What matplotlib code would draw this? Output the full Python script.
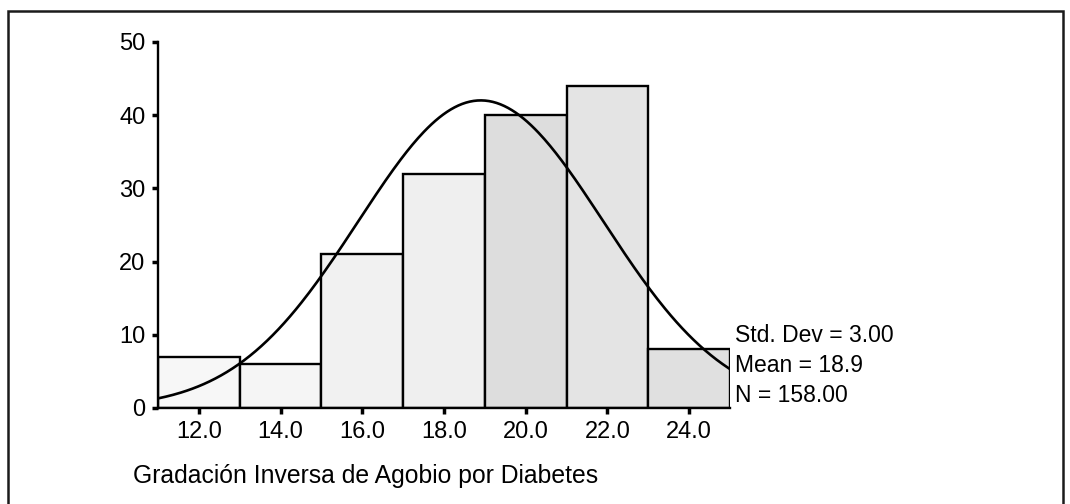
import matplotlib
matplotlib.use("Agg")
import matplotlib.pyplot as plt
from matplotlib.patches import Rectangle
import numpy as np

plt.rcParams['font.family'] = ['Liberation Sans', 'DejaVu Sans']

# histograma: centros de clase y frecuencias
centros = [12.0, 14.0, 16.0, 18.0, 20.0, 22.0, 24.0]
frecuencias = [7, 6, 21, 32, 40, 44, 8]
rellenos = ['#f7f7f7', '#f5f5f5', '#f1f1f1', '#efefef', '#dddddd', '#e4e4e4', '#e0e0e0']

# estadisticos mostrados en la figura
media = 18.9
desv = 3.00
n_total = 158.00
ancho_clase = 2.0

y_ticks = [0, 10, 20, 30, 40, 50]
x_ticks = [12.0, 14.0, 16.0, 18.0, 20.0, 22.0, 24.0]
etiqueta_x = "Gradación Inversa de Agobio por Diabetes"

W, H = 1070, 504
fig = plt.figure(figsize=(W / 100, H / 100), dpi=100)
fig.set_facecolor('white')
ax = fig.add_axes([158 / W, 96 / H, 572 / W, 366 / H])

ax.bar(centros, frecuencias, width=ancho_clase, color=rellenos,
       edgecolor='black', linewidth=1.7, zorder=2)

# curva normal ajustada (a partir de media, desv. tipica y N)
xs = np.linspace(11, 25, 300)
ys = n_total * ancho_clase / (desv * np.sqrt(2 * np.pi)) * np.exp(-0.5 * ((xs - media) / desv) ** 2)
ax.plot(xs, ys, color='black', linewidth=1.9, zorder=3)

ax.set_xlim(11, 25)
ax.set_ylim(0, 50)
ax.set_yticks(y_ticks)
ax.set_yticklabels([str(v) for v in y_ticks])
ax.set_xticks(x_ticks)
ax.set_xticklabels([f"{v:.1f}" for v in x_ticks])
for s in ['top', 'right']:
    ax.spines[s].set_visible(False)
for s in ['left', 'bottom']:
    ax.spines[s].set_linewidth(1.7)
ax.tick_params(direction='out', length=4, width=2.5, pad=5, labelsize=17)
ax.set_facecolor('white')

# texto de estadisticos
fig.text(735 / W, 1 - 335 / H, f"Std. Dev = {desv:.2f}", va='center', ha='left', fontsize=16.5)
fig.text(735 / W, 1 - 366 / H, f"Mean = {media:.1f}", va='center', ha='left', fontsize=16.5)
fig.text(735 / W, 1 - 395 / H, f"N = {n_total:.2f}", va='center', ha='left', fontsize=16.5)

fig.text(133 / W, 1 - 476 / H, etiqueta_x, va='center', ha='left', fontsize=17.8)

# marco exterior
fig.add_artist(Rectangle((8 / W, -0.05), (1063 - 8) / W, (H - 11) / H + 0.05,
                         transform=fig.transFigure, fill=False, lw=1.8, ec='#1a1a1a'))

fig.savefig("out.png", dpi=100)
